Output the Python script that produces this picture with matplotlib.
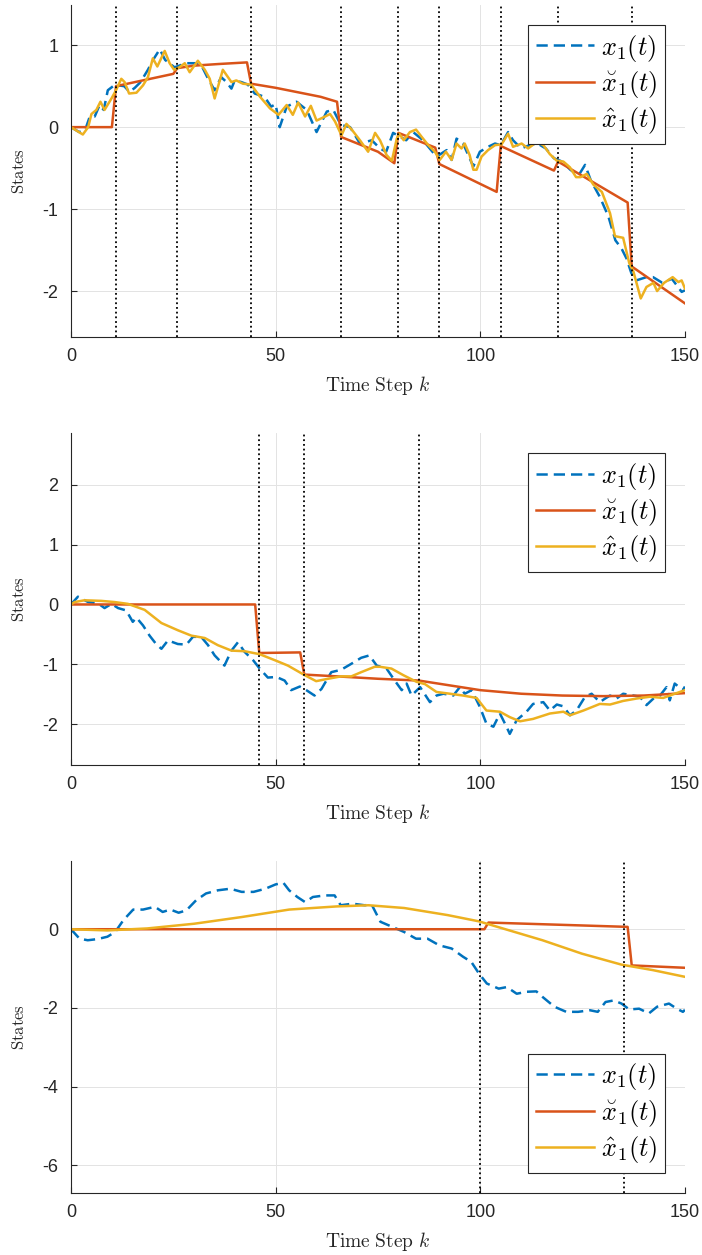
import matplotlib
matplotlib.use("Agg")
import matplotlib.pyplot as plt

plt.rcParams['mathtext.fontset'] = 'cm'
plt.rcParams['font.family'] = ['Liberation Sans', 'DejaVu Sans']
plt.rcParams['axes.unicode_minus'] = False

# ---------------- Panel 1 data ----------------
p1_true_k = [0, 2, 3.5, 4.6, 5.8, 7, 8, 9, 10.3, 11.5, 13, 14.3, 15.6, 17, 18.8, 20.3, 21.7, 23,
             25.3, 27, 28.2, 30.2, 31.8, 33.5, 35.1, 36.7, 38, 39.2, 40, 41.6, 43.2, 44.9, 47.3,
             48.9, 50, 51, 52.7, 55.1, 57.6, 60, 62.5, 64.1, 65.7, 66.5, 68.2, 70.6, 73.5, 75.5,
             77, 78.7, 81.9, 83.6, 86, 89.3, 91.8, 93, 94.2, 95.8, 98.3, 99.9, 101.9, 103.6, 105,
             106.8, 108, 110, 112, 114, 116, 118, 120, 122, 124, 125.6, 127, 129.2, 131.3, 133,
             134.5, 135.7, 136.9, 138.1, 140.6, 142.2, 144.5, 146.8, 149.2, 150]
p1_true_v = [0, -0.06, -0.03, 0.13, 0.13, 0.27, 0.21, 0.45, 0.50, 0.51, 0.50, 0.43, 0.48, 0.55, 0.70,
             0.84, 0.95, 0.82, 0.73, 0.76, 0.78, 0.78, 0.76, 0.59, 0.45, 0.61, 0.55, 0.47, 0.57,
             0.55, 0.52, 0.41, 0.37, 0.25, 0.28, 0.0, 0.25, 0.31, 0.21, -0.06, 0.19, 0.21, 0.05,
             0.02, 0.0, -0.20, -0.16, -0.26, -0.30, -0.07, -0.16, -0.06, -0.16, -0.36, -0.28,
             -0.40, -0.14, -0.20, -0.48, -0.30, -0.24, -0.20, -0.22, -0.06, -0.16, -0.26, -0.22,
             -0.20, -0.26, -0.38, -0.42, -0.52, -0.59, -0.46, -0.65, -0.85, -1.09, -1.38, -1.48,
             -1.60, -1.78, -1.87, -1.83, -1.83, -1.90, -1.85, -2.01, -1.99]
p1_check_k = [0, 10, 11, 25, 26, 30, 36, 43, 44, 50, 56, 61, 65, 66, 70, 75, 79, 80, 89, 90, 104,
              105, 118, 119, 136, 137, 150]
p1_check_v = [0, 0, 0.50, 0.65, 0.72, 0.75, 0.77, 0.79, 0.53, 0.48, 0.42, 0.37, 0.31, -0.12,
              -0.20, -0.30, -0.44, -0.07, -0.25, -0.45, -0.79, -0.23, -0.53, -0.42, -0.92, -1.70,
              -2.15]
p1_hat_k = [0, 2.9, 4.2, 5, 6.2, 7.2, 8.2, 9.9, 11, 12.3, 13.1, 14.2, 16, 17.6, 18.8, 20, 21.1, 22.9,
            24.1, 25.2, 26.5, 27.8, 29, 31, 32.7, 33.9, 35.1, 37.1, 39.2, 40.4, 42, 44, 46.2, 48.6,
            50.7, 52.7, 54.2, 55.5, 57.2, 58.6, 60, 62.1, 63.3, 64.5, 66.1, 67.3, 68.6, 70.6, 72.6,
            74.3, 75.5, 77.1, 78.4, 79.6, 80.2, 81.3, 82.8, 84.3, 85.7, 87.3, 88.9, 90.1, 91.6, 93,
            94.2, 95.4, 96.2, 97.4, 98.3, 99.1, 100.3, 101.9, 103.6, 105.2, 106.8, 108, 110.1,
            111.7, 113.8, 115.4, 117, 118.7, 120.3, 121.9, 123.4, 124.5, 126, 127.6, 129.7, 131.7,
            132.9, 134.9, 136.4, 137.4, 139.2, 140.6, 142.3, 143.2, 144.9, 147, 148.4, 149.2, 150]
p1_hat_v = [0, -0.09, 0.0, 0.16, 0.21, 0.31, 0.21, 0.35, 0.45, 0.59, 0.55, 0.41, 0.42, 0.51, 0.61,
            0.84, 0.74, 0.93, 0.78, 0.70, 0.73, 0.78, 0.67, 0.81, 0.70, 0.59, 0.35, 0.70, 0.55,
            0.57, 0.53, 0.52, 0.37, 0.23, 0.15, 0.27, 0.15, 0.30, 0.13, 0.26, 0.08, 0.13, 0.16,
            0.07, -0.10, 0.04, -0.03, -0.16, -0.30, -0.07, -0.16, -0.34, -0.41, -0.14, -0.08,
            -0.16, -0.06, -0.03, -0.12, -0.22, -0.30, -0.40, -0.30, -0.40, -0.20, -0.26, -0.20,
            -0.34, -0.52, -0.52, -0.36, -0.28, -0.22, -0.21, -0.08, -0.24, -0.20, -0.26, -0.18,
            -0.22, -0.33, -0.41, -0.42, -0.49, -0.61, -0.61, -0.57, -0.70, -0.79, -1.05, -1.33,
            -1.35, -1.66, -1.76, -2.09, -1.95, -1.90, -2.00, -1.90, -1.83, -1.89, -1.87, -1.97]
p1_events = [11, 26, 44, 66, 80, 90, 105, 119, 137]
p1_ylim = (-2.56, 1.49)
p1_yticks = [-2, -1, 0, 1]

# ---------------- Panel 2 data ----------------
p2_true_k = [0, 1.7, 4.2, 6.6, 8.2, 9.9, 11.5, 13.5, 15.1, 16, 17.6, 19.2, 20.8, 22.1, 23.7, 26.1,
             28.2, 29.8, 31.8, 33.5, 35.1, 37.5, 39.2, 40.8, 42.4, 44.5, 46.1, 48.1, 50.2, 52.2,
             53.8, 55.9, 57.5, 59.5, 61.2, 63.6, 66, 68.5, 70.9, 72.9, 74.7, 77.1, 79.1, 80.8, 82,
             83.2, 85.3, 87.7, 89.3, 91, 93.4, 95, 96.2, 97.9, 99.9, 101.5, 103.2, 104.8, 106.4,
             107.2, 108.9, 111.3, 112.9, 115.4, 117, 118.7, 120.3, 121.9, 123.5, 125.6, 127.2,
             129.2, 130.5, 131.7, 133.3, 134.9, 137.4, 139, 140.6, 142.3, 143.9, 145.5, 146.3,
             147.5, 149.5, 150]
p2_true_v = [0, 0.13, 0.04, 0.02, -0.06, 0.01, -0.06, -0.10, -0.29, -0.22, -0.35, -0.52, -0.66,
             -0.74, -0.60, -0.66, -0.67, -0.54, -0.54, -0.68, -0.85, -1.02, -0.77, -0.63, -0.79,
             -0.93, -1.07, -1.22, -1.21, -1.27, -1.43, -1.37, -1.43, -1.52, -1.41, -1.13, -1.09,
             -0.99, -0.89, -0.85, -1.02, -1.07, -1.27, -1.43, -1.32, -1.52, -1.38, -1.63, -1.52,
             -1.49, -1.52, -1.38, -1.49, -1.43, -1.71, -1.99, -2.04, -1.82, -2.04, -2.16, -1.93,
             -1.79, -1.66, -1.63, -1.77, -1.67, -1.70, -1.85, -1.77, -1.54, -1.49, -1.63, -1.57,
             -1.52, -1.57, -1.49, -1.52, -1.54, -1.68, -1.57, -1.52, -1.38, -1.60, -1.32, -1.43,
             -1.37]
p2_check_k = [0, 45, 46, 56, 57, 65, 75, 85, 100, 110, 120, 130, 140, 150]
p2_check_v = [0, 0, -0.81, -0.80, -1.17, -1.20, -1.24, -1.27, -1.43, -1.49, -1.52, -1.53, -1.52,
              -1.48]
p2_hat_k = [0, 0.9, 3.3, 7.4, 10.7, 13.9, 18, 22.1, 26.1, 29.4, 32.7, 35.9, 39.2, 42.4, 46.1, 49.8,
            53, 57.1, 59.9, 62.8, 66, 68.5, 70.9, 74.2, 75.5, 78.3, 81.2, 84.4, 86.5, 89.3, 92.6,
            95.8, 99.1, 101.5, 104.8, 107.2, 109.7, 112.9, 117, 120.3, 121.9, 125.2, 129.2, 131.7,
            134.9, 138.2, 141.4, 144.7, 147.1, 150]
p2_hat_v = [0, 0.04, 0.07, 0.06, 0.04, 0.01, -0.09, -0.31, -0.43, -0.52, -0.56, -0.68, -0.77,
            -0.78, -0.83, -0.93, -1.02, -1.18, -1.28, -1.24, -1.20, -1.20, -1.13, -1.04, -1.04,
            -1.07, -1.18, -1.29, -1.33, -1.46, -1.49, -1.52, -1.56, -1.77, -1.79, -1.88, -1.95,
            -1.91, -1.82, -1.79, -1.85, -1.77, -1.66, -1.67, -1.61, -1.57, -1.54, -1.56, -1.50,
            -1.43]
p2_events = [46, 57, 85]
p2_ylim = (-2.68, 2.86)
p2_yticks = [-2, -1, 0, 1, 2]

# ---------------- Panel 3 data ----------------
p3_true_k = [0, 2.1, 4.1, 6.5, 8.9, 10.8, 12.8, 15.2, 17.6, 20.5, 22.4, 24.3, 26.3, 28.2, 30.6, 33,
             35.9, 38.9, 41.7, 44.6, 47.5, 50, 51.9, 53.3, 55.3, 57.2, 59.1, 62, 64.4, 65.9, 68.8,
             71.7, 73.5, 75.6, 78.5, 81.4, 84.3, 87.1, 90, 93, 95.8, 97.8, 99.7, 101.6, 104.5,
             106.5, 108.9, 111.3, 113.7, 115.2, 118.1, 121, 123.9, 126.8, 128.7, 130.6, 132.6,
             134.5, 136.4, 138.8, 141.2, 143.2, 146.1, 148, 149.5, 150]
p3_true_v = [0, -0.24, -0.28, -0.25, -0.19, -0.07, 0.23, 0.50, 0.50, 0.57, 0.44, 0.50, 0.42, 0.48,
             0.74, 0.91, 0.99, 1.03, 0.95, 0.95, 1.03, 1.14, 1.18, 0.99, 0.82, 0.69, 0.82, 0.86,
             0.86, 0.61, 0.65, 0.61, 0.62, 0.19, 0.06, -0.07, -0.24, -0.24, -0.41, -0.49, -0.70,
             -0.83, -1.13, -1.38, -1.51, -1.47, -1.64, -1.59, -1.58, -1.72, -1.97, -2.10, -2.10,
             -2.06, -2.10, -1.85, -1.81, -1.89, -2.04, -2.02, -2.14, -1.97, -1.89, -2.02, -2.10,
             -2.05]
p3_check_k = [0, 101, 102, 136, 137, 150]
p3_check_v = [0, 0, 0.17, 0.06, -0.92, -0.98]
p3_hat_k = [0, 8.9, 18.6, 30.1, 41.7, 53.3, 64.9, 72.7, 81.4, 92, 99.7, 105.5, 115.2, 124.8, 134.5,
            142.2, 150]
p3_hat_v = [0, -0.03, 0.02, 0.14, 0.31, 0.50, 0.58, 0.61, 0.54, 0.36, 0.20, 0.02, -0.28, -0.62,
            -0.90, -1.04, -1.21]
p3_events = [100, 135]
p3_ylim = (-6.70, 1.74)
p3_yticks = [-6, -4, -2, 0]

xticks = [0, 50, 100, 150]
# mathtext's \check accent is misplaced, so the (visually near-identical) breve accent is used
labels = [r'$x_1(t)$', r'$\breve{x}_1(t)$', r'$\hat{x}_1(t)$']
colors = ['#0072BD', '#D95319', '#EDB120']

panels = [
    dict(tk=p1_true_k, tv=p1_true_v, ck=p1_check_k, cv=p1_check_v, hk=p1_hat_k, hv=p1_hat_v,
         ev=p1_events, ylim=p1_ylim, yt=p1_yticks, loc='upper right', bottom=0.7315),
    dict(tk=p2_true_k, tv=p2_true_v, ck=p2_check_k, cv=p2_check_v, hk=p2_hat_k, hv=p2_hat_v,
         ev=p2_events, ylim=p2_ylim, yt=p2_yticks, loc='upper right', bottom=0.3904),
    dict(tk=p3_true_k, tv=p3_true_v, ck=p3_check_k, cv=p3_check_v, hk=p3_hat_k, hv=p3_hat_v,
         ev=p3_events, ylim=p3_ylim, yt=p3_yticks, loc='lower right', bottom=0.0496),
]

fig = plt.figure(figsize=(7.02, 12.55), dpi=100)
axcol = '#262626'
for p in panels:
    ax = fig.add_axes([0.1011, p['bottom'], 0.8746, 0.2645])
    ax.plot(p['tk'], p['tv'], color=colors[0], lw=1.8, linestyle=(0, (4.5, 2.4)), label=labels[0])
    ax.plot(p['ck'], p['cv'], color=colors[1], lw=1.8, label=labels[1])
    ax.plot(p['hk'], p['hv'], color=colors[2], lw=1.8, label=labels[2])
    for e in p['ev']:
        ax.axvline(e, color='k', lw=1.3, linestyle=(0, (1, 1.6)), zorder=3)
    ax.set_xlim(0, 150)
    ax.set_ylim(*p['ylim'])
    ax.set_xticks(xticks)
    ax.set_yticks(p['yt'])
    ax.grid(True, color='#e3e3e3', lw=0.7)
    ax.set_axisbelow(True)
    for s in ['top', 'right']:
        ax.spines[s].set_visible(False)
    for s in ['left', 'bottom']:
        ax.spines[s].set_color(axcol)
        ax.spines[s].set_linewidth(0.8)
    ax.tick_params(direction='in', length=4.5, width=0.8, color=axcol, labelcolor=axcol,
                   labelsize=13)
    ax.tick_params(axis='x', pad=8)
    ax.tick_params(axis='y', pad=9)
    ax.set_xlabel(r'$\mathrm{Time\ Step}\ k$', fontsize=14, color=axcol)
    ax.xaxis.set_label_coords(0.5, -0.112)
    ax.set_ylabel(r'$\mathrm{States}$', fontsize=12, color=axcol)
    ax.yaxis.set_label_coords(-0.072, 0.5)
    leg = ax.legend(loc=p['loc'], fontsize=19, frameon=True, fancybox=False, framealpha=1,
                    edgecolor=axcol, handlelength=2.2, handletextpad=0.25, borderaxespad=0.75,
                    borderpad=0.3, labelspacing=0.2)
    leg.get_frame().set_linewidth(0.8)

fig.savefig('out.png', dpi=100)
